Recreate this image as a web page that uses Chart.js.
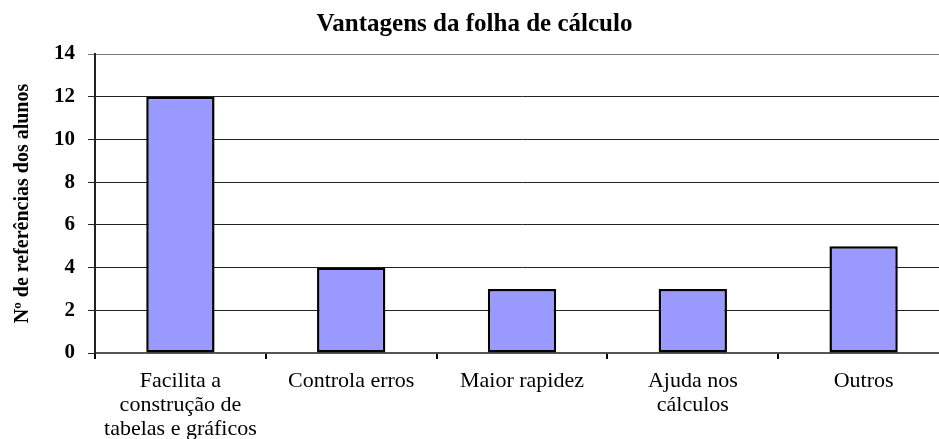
<!DOCTYPE html>
<html lang="pt">
<head>
    <meta charset="UTF-8">
    <title>Vantagens da folha de cálculo</title>
    <script src="https://cdn.jsdelivr.net/npm/chart.js"></script>
    <style>
        body {
            margin: 0;
            padding: 0;
            background: #ffffff;
            overflow: hidden;
        }

        .chart-box {
            width: 950px;
            height: 451px;
            position: relative;
        }
    </style>
</head>
<body>
    <div class="chart-box">
        <canvas id="vantagens"></canvas>
    </div>

    <script>
        const categories = [
            ['Facilita a', 'construção de', 'tabelas e gráficos'],
            'Controla erros',
            'Maior rapidez',
            ['Ajuda nos', 'cálculos'],
            'Outros'
        ];
        const referencias = [12, 4, 3, 3, 5];
        const yTicks = [0, 2, 4, 6, 8, 10, 12, 14];

        const serif = "'Liberation Serif', 'Times New Roman', serif";

        new Chart(document.getElementById('vantagens').getContext('2d'), {
            type: 'bar',
            data: {
                labels: categories,
                datasets: [{
                    data: referencias,
                    backgroundColor: '#9999ff',
                    borderColor: '#000000',
                    borderWidth: 2.5,
                    borderSkipped: false,
                    categoryPercentage: 1,
                    barPercentage: 0.4
                }]
            },
            options: {
                responsive: true,
                maintainAspectRatio: false,
                animation: false,
                layout: { padding: { left: 0, right: 1, top: 4, bottom: 0 } },
                plugins: {
                    legend: { display: false },
                    tooltip: { enabled: false },
                    title: {
                        display: true,
                        text: 'Vantagens da folha de cálculo',
                        color: '#000',
                        font: { family: serif, size: 25, weight: 'bold' },
                        padding: { top: 6, bottom: 14 }
                    }
                },
                scales: {
                    x: {
                        grid: {
                            offset: true,
                            drawOnChartArea: false,
                            drawTicks: true,
                            tickLength: 6,
                            color: '#000',
                            lineWidth: 2
                        },
                        border: { color: '#555', width: 2 },
                        ticks: {
                            color: '#000',
                            font: { family: serif, size: 22, weight: 'normal', lineHeight: '24px' },
                            maxRotation: 0,
                            autoSkip: false,
                            padding: 10
                        }
                    },
                    y: {
                        min: 0,
                        max: 14,
                        afterBuildTicks: axis => {
                            axis.ticks = yTicks.map(v => ({ value: v }));
                        },
                        grid: {
                            color: ctx => ctx.tick && ctx.tick.value === 14 ? '#777' : '#222',
                            lineWidth: 1,
                            tickLength: 7
                        },
                        border: { color: '#222', width: 2 },
                        ticks: {
                            color: '#000',
                            font: { family: serif, size: 21, weight: 'bold' },
                            padding: 13
                        },
                        title: {
                            display: true,
                            text: 'Nº de referências dos alunos',
                            color: '#000',
                            font: { family: serif, size: 20, weight: 'bold' },
                            padding: { top: 11, bottom: 6 }
                        }
                    }
                }
            }
        });
    </script>
</body>
</html>
